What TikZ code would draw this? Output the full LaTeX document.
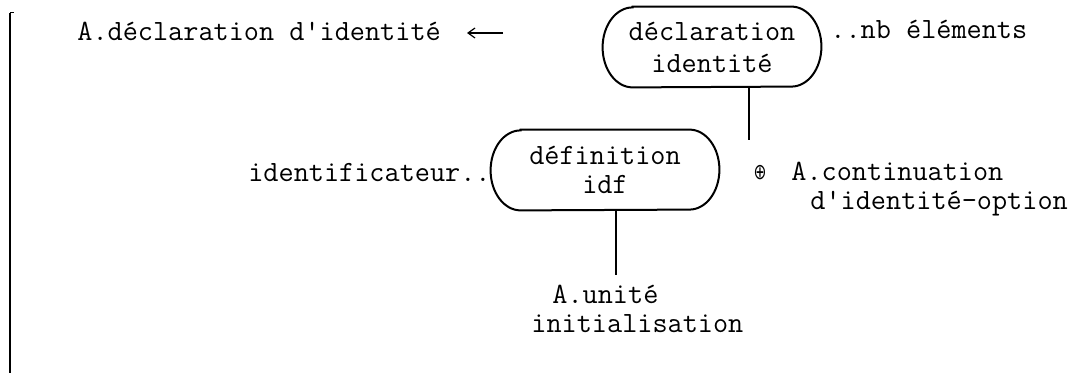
\documentclass[tikz,border=0pt]{standalone}
\usepackage{fontspec}
\newfontfamily\symfont{DejaVu Sans}
\usetikzlibrary{arrows.meta}
\newcommand\stadium[1]{%
  \draw[boxline] ([xshift=15pt]#1.north west) -- ([xshift=-15pt]#1.north east)
    arc[start angle=90,end angle=-90,x radius=15pt,y radius=20pt]
    -- ([xshift=15pt]#1.south west)
    arc[start angle=270,end angle=90,x radius=15pt,y radius=20pt] -- cycle;}
\begin{document}
\begin{tikzpicture}[x=0.5pt,y=-0.5pt,
  every node/.style={font=\ttfamily\fontsize{14.7}{14.5}\selectfont, inner sep=0pt},
  boxnode/.style={minimum height=40pt, align=center},
  boxline/.style={line width=1pt},
  link/.style={line width=1.1pt},
  lbl/.style={anchor=base west},
]
\useasboundingbox (0,0) rectangle (1092,373);
% left rule
\coordinate (rt) at (10,13);
\coordinate (rb) at (10,373);
\draw[line width=1.4pt] (rt) -- (rb);
\draw[line width=0.5pt] (rt) -- ++(4,0);

% top left label and arrow
\node[lbl] (tdecl) at (77,41) {A.déclaration d'identité};
\coordinate (atail) at (503,33);
\coordinate (ahead) at (467,33);
\draw[line width=0.6pt, -{Straight Barb[length=3.5pt,width=5pt]}] (atail) -- (ahead);

% box 1
\node[boxnode, minimum width=109pt, font=\ttfamily\fontsize{14.7}{16}\selectfont] (b1) at (712,47) {déclaration\\identité};
\stadium{b1}
\node[lbl] (nb) at (830,39) {..nb éléments};
\coordinate (c1) at (749,140);
\draw[link] (c1 |- b1.south) -- (c1);
\node[xscale=0.7, transform shape] (plus) at (760,173) {\symfont\fontsize{11}{11}\selectfont ⊕};
\node[lbl] (cont1) at (791,181) {A.continuation};
\node[lbl] (cont2) at (810,210) {d'identité-option};

% box 2
\node[boxnode, minimum width=114pt] (b2) at (605,170) {définition\\idf};
\stadium{b2}
\node[anchor=base east] (ident) at (491,182) {identificateur..};
\coordinate (c2) at (616,275);
\draw[link] (c2 |- b2.south) -- (c2);
\node[lbl] (unit1) at (552,304) {A.unité};
\node[lbl] (unit2) at (531,333) {initialisation};
\end{tikzpicture}
\end{document}
